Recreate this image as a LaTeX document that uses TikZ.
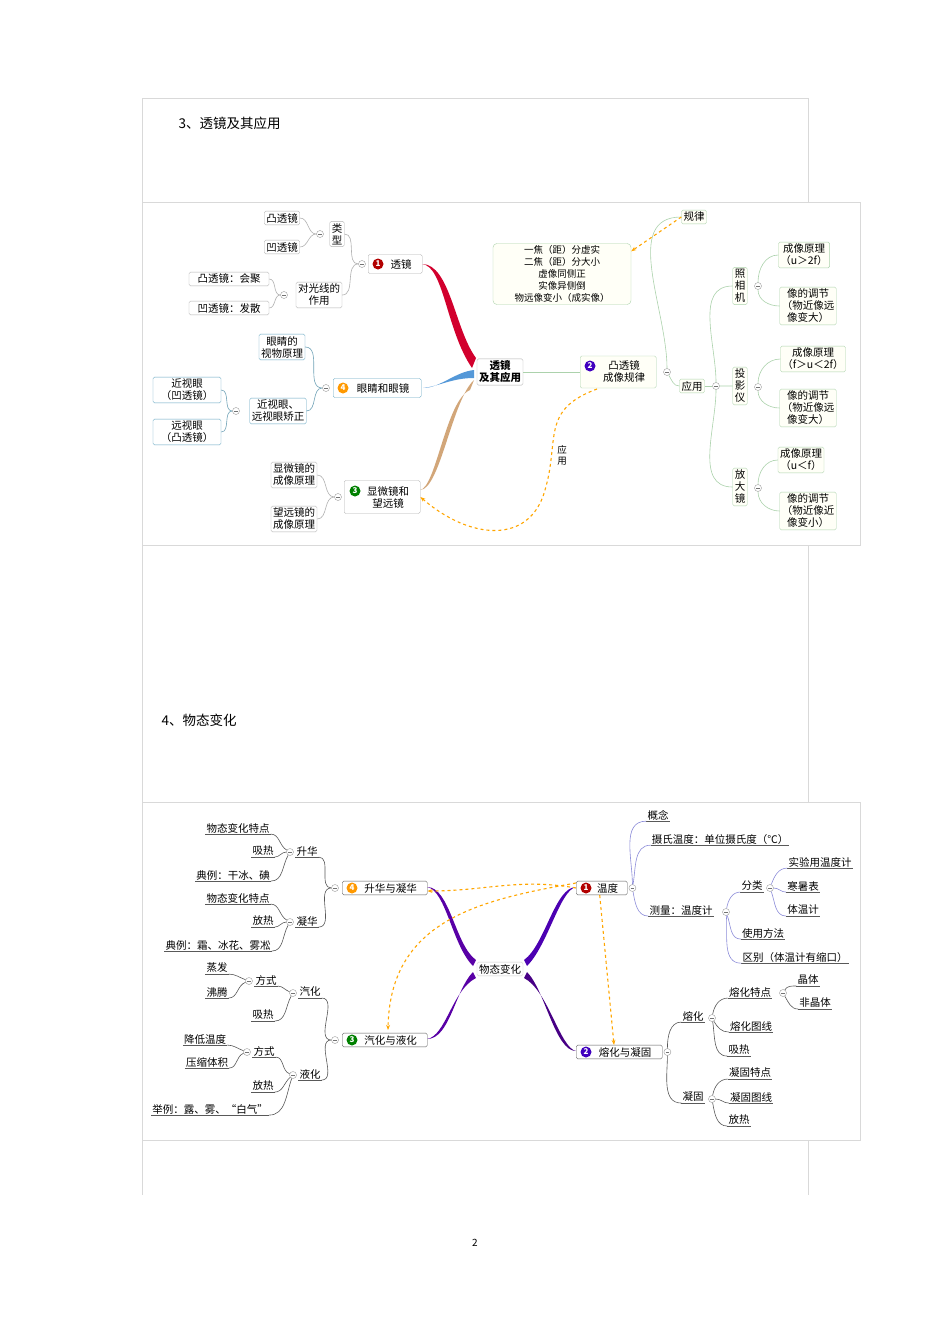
\documentclass[tikz,border=0pt]{standalone}
\usepackage{fontspec}
\setmainfont{Noto Sans CJK SC}
\usetikzlibrary{arrows.meta}
\newcommand\fs{\fontsize{10.5}{12}\selectfont}
\tikzset{
 box/.style={draw=gray!60,fill=white,rounded corners=1.5pt,align=center,font=\fs,inner sep=2pt},
 gbox/.style={box,draw=green!30!gray!50,fill=yellow!3},
 bbox/.style={box,draw=cyan!50!gray},
 mn/.style={circle,draw=gray!80,fill=white,inner sep=0pt,minimum size=7pt,
   path picture={\draw[gray!90!black] ([xshift=-1.8pt]path picture bounding box.center)--([xshift=1.8pt]path picture bounding box.center);}},
 ln/.style={draw=gray!60,line width=0.6pt},
 lnb/.style={draw=gray!50!blue!60,line width=0.6pt},
 dsh/.style={draw=orange!70!yellow,dashed,line width=1.1pt,-{Stealth[length=5pt]}},
 lab/.style={font=\fs,inner sep=1pt},
 bd/.style={circle,inner sep=0.3pt,minimum size=11pt,font=\fontsize{8}{8}\selectfont\bfseries,text=white},
 frame/.style={draw=gray!30,line width=0.5pt}
}
\newcommand\ul[3]{\node[lab] (#1) at (#2) {#3}; \draw[ln,draw=gray!70!black] (#1.south west)--(#1.south east);}
\begin{document}
\begin{tikzpicture}[x=1pt,y=-1pt]
\useasboundingbox (0,0) rectangle (950,1344);
\fill[white] (0,0) rectangle (950,1344);
% page frame
\draw[frame] (142,98)--(808,98);
\draw[frame] (142,98)--(142,1195);
\draw[frame] (808,98)--(808,202);
\draw[frame] (808,545)--(808,802);
\draw[frame] (808,1140)--(808,1195);
\draw[frame] (142,202) rectangle (860,545);
\draw[frame] (142,802) rectangle (860,1140);
\node[font=\fontsize{13.5}{15}\selectfont,anchor=west] (h1) at (175,123) {3、透镜及其应用};
\node[font=\fontsize{13.5}{15}\selectfont,anchor=west] (h2) at (158,720) {4、物态变化};
\node[font=\fontsize{10}{11}\selectfont] (pg) at (475,1243) {2};

% ===== TOP DIAGRAM =====
\node[box,font=\fs\bfseries] (c) at (500,372) {透镜\\及其应用};
\fill[purple!70!red] (476,358) .. controls (455,330) and (450,264) .. (422,264) .. controls (444,266) and (446,330) .. (472,368) -- cycle;
\fill[cyan!60!blue!70] (474,370) .. controls (455,372) and (440,388) .. (423,388) .. controls (440,386) and (452,378) .. (474,378) -- cycle;
\fill[brown!70] (474,380) .. controls (452,400) and (440,490) .. (420,490) .. controls (436,488) and (446,400) .. (470,390) -- cycle;

\node[box,minimum width=54pt,minimum height=19pt,anchor=west] (t1) at (368,264) {\hspace{12pt}透镜};
\node[bd,fill=red!70!black] (b1) at (378,264) {1};
\node[mn] (m1) at (362,264) {};
\node[box,anchor=center] (lx) at (337,234) {类\\型};
\node[mn] (m1a) at (320,234) {};
\node[box] (tu) at (282,218) {凸透镜};
\node[box] (ao) at (282,247) {凹透镜};
\node[box] (dg) at (319,295) {对光线的\\作用};
\node[mn] (m1b) at (284,295) {};
\node[box,minimum width=80pt] (hj) at (229,279) {凸透镜：会聚};
\node[box,minimum width=80pt] (fs) at (229,308) {凹透镜：发散};
\draw[ln] (m1) to[out=180,in=0] (lx.east) (m1) to[out=180,in=0] (dg.east);
\draw[ln] (m1a) to[out=180,in=0] (tu.east) (m1a) to[out=180,in=0] (ao.east);
\draw[ln] (m1b) to[out=180,in=0] (hj.east) (m1b) to[out=180,in=0] (fs.east);

\node[bbox,minimum width=88pt,minimum height=19pt,anchor=west] (t4) at (333,388) {\hspace{12pt}眼睛和眼镜};
\node[bd,fill=orange!80!yellow] (b4) at (343,388) {4};
\node[mn] (m4) at (326,388) {};
\node[bbox] (ys) at (282,347) {眼睛的\\视物原理};
\node[bbox] (jz) at (278,411) {近视眼、\\远视眼矫正};
\node[mn] (m4a) at (236,411) {};
\node[bbox,minimum width=68pt] (jsy) at (187,390) {近视眼\\（凹透镜）};
\node[bbox,minimum width=68pt] (ysy) at (187,432) {远视眼\\（凸透镜）};
\draw[ln,draw=cyan!40!gray] (m4) to[out=180,in=0] (ys.east) (m4) to[out=180,in=0] (jz.east);
\draw[ln,draw=cyan!40!gray] (m4a) to[out=180,in=0] (jsy.east) (m4a) to[out=180,in=0] (ysy.east);

\node[box,minimum width=76pt,minimum height=33pt,anchor=west] (t3) at (344,497) {\hspace{12pt}显微镜和\\\hspace{12pt}望远镜};
\node[bd,fill=green!50!black] (b3) at (355,491) {3};
\node[mn] (m3) at (338,497) {};
\node[box] (xw) at (294,475) {显微镜的\\成像原理};
\node[box] (wy) at (294,519) {望远镜的\\成像原理};
\draw[ln] (m3) to[out=180,in=0] (xw.east) (m3) to[out=180,in=0] (wy.east);

\node[gbox,minimum width=76pt,minimum height=32pt,anchor=west] (t2) at (580,372) {\hspace{12pt}凸透镜\\\hspace{12pt}成像规律};
\node[bd,fill=blue!50!violet] (b2) at (590,366) {2};
\draw[ln,draw=green!30!gray!50] (c.east)--(t2.west);
\node[mn] (m2) at (667,372) {};
\node[gbox] (gl) at (694,217) {规律};
\node[gbox,minimum width=138pt,rounded corners=4pt,font=\fontsize{9.5}{12}\selectfont] (rule) at (562,274) {一焦（距）分虚实\\二焦（距）分大小\\虚像同侧正\\实像异侧倒\\物远像变小（成实像）};
\node[gbox] (yy) at (692,386) {应用};
\node[mn] (m2a) at (716,386) {};
\draw[ln,draw=green!30!gray!50] (m2) to[out=90,in=180] (gl.west) (m2) to[out=-60,in=180] (yy.west);
\draw[ln,draw=green!30!gray!50] (yy)--(m2a);
\draw[dsh] (gl.west) -- ([yshift=-8pt]rule.north east);
\node[gbox] (zx) at (740,286) {照\\相\\机};
\node[gbox] (ty) at (740,386) {投\\影\\仪};
\node[gbox] (fd) at (740,487) {放\\大\\镜};
\draw[ln,draw=green!30!gray!50] (m2a) to[out=90,in=180] (zx.west) (m2a)--(ty.west) (m2a) to[out=-90,in=180] (fd.west);
\node[mn] (mz) at (758,286) {};
\node[mn] (mt) at (758,387) {};
\node[mn] (mf) at (758,488) {};
\node[gbox] (z1) at (804,255) {成像原理\\（u＞2f）};
\node[gbox] (z2) at (808,306) {像的调节\\（物近像远\\像变大）};
\node[gbox] (t1b) at (813,359) {成像原理\\（f＞u＜2f）};
\node[gbox] (t2b) at (808,408) {像的调节\\（物近像远\\像变大）};
\node[gbox] (f1) at (801,460) {成像原理\\（u＜f）};
\node[gbox] (f2) at (808,511) {像的调节\\（物近像近\\像变小）};
\foreach \m/\a/\b in {mz/z1/z2,mt/t1b/t2b,mf/f1/f2}{
 \draw[ln,draw=green!30!gray!50] (\m) to[out=90,in=180] (\a.west) (\m) to[out=-90,in=180] (\b.west);}
\draw[dsh] (597,389) .. controls (540,410) and (560,440) .. (545,490) .. controls (530,545) and (470,540) .. (t3.east);
\node[font=\fontsize{9.5}{11}\selectfont,align=center] (yyl) at (562,455) {应\\用};

% ===== BOTTOM DIAGRAM =====
\node[box,draw=gray!40] (c2) at (500,969) {物态变化};
\fill[violet!70!blue] (476,960) .. controls (455,945) and (450,887) .. (427,887) .. controls (446,890) and (452,945) .. (473,966) -- cycle;
\fill[violet!70!blue] (473,972) .. controls (455,990) and (450,1039) .. (427,1039) .. controls (446,1036) and (452,990) .. (476,978) -- cycle;
\fill[violet!60!blue] (524,960) .. controls (545,945) and (555,887) .. (576,887) .. controls (560,890) and (548,945) .. (527,966) -- cycle;
\fill[violet!70!blue!80!black] (527,972) .. controls (545,990) and (555,1051) .. (576,1051) .. controls (560,1048) and (548,990) .. (524,978) -- cycle;

\node[box,minimum width=51pt,anchor=west,draw=gray!70!black] (w1) at (576,888) {\hspace{12pt}温度};
\node[bd,fill=red!70!black] (wb1) at (586,888) {1};
\node[box,minimum width=86pt,anchor=west,draw=gray!70!black] (w2) at (576,1052) {\hspace{12pt}熔化与凝固};
\node[bd,fill=blue!50!violet] (wb2) at (586,1052) {2};
\node[box,minimum width=85pt,anchor=west,draw=gray!70!black] (w3) at (342,1040) {\hspace{12pt}汽化与液化};
\node[bd,fill=green!50!black] (wb3) at (352,1040) {3};
\node[box,minimum width=85pt,anchor=west,draw=gray!70!black] (w4) at (342,888) {\hspace{12pt}升华与凝华};
\node[bd,fill=orange!80!yellow] (wb4) at (352,888) {4};
\node[mn] (wm1) at (w1.east) [xshift=5pt] {};
\node[mn] (wm2) at (w2.east) [xshift=5pt] {};
\node[mn] (wm3) at (335,1040) {};
\node[mn] (wm4) at (335,888) {};

% left: 4
\ul{sh}{307,851}{升华}
\node[mn] (msh) at (290,852) {};
\ul{nh}{307,921}{凝华}
\node[mn] (mnh) at (290,922) {};
\ul{s1}{238,828}{物态变化特点}
\ul{s2}{263,851}{吸热}
\ul{s3}{233,875}{典例：干冰、碘}
\ul{n1}{238,898}{物态变化特点}
\ul{n2}{263,921}{放热}
\ul{n3}{218,945}{典例：霜、冰花、雾凇}
\draw[ln,draw=gray!70!black] (wm4) to[out=180,in=0] (sh.south east) (wm4) to[out=180,in=0] (nh.south east);
\draw[ln,draw=gray!70!black] (msh) to[out=150,in=0] (s1.south east) (msh) to[out=180,in=0] (s2.south east) (msh) to[out=-120,in=0] (s3.south east);
\draw[ln,draw=gray!70!black] (mnh) to[out=150,in=0] (n1.south east) (mnh) to[out=180,in=0] (n2.south east) (mnh) to[out=-120,in=0] (n3.south east);
% left: 3
\ul{qh}{310,992}{汽化}
\node[mn] (mqh) at (293,993) {};
\ul{yh}{310,1074}{液化}
\node[mn] (myh) at (293,1075) {};
\ul{fq}{266,980}{方式}
\node[mn] (mfq) at (249,981) {};
\ul{zf}{217,968}{蒸发}
\ul{ft}{217,992}{沸腾}
\ul{q2}{263,1015}{吸热}
\ul{fy}{264,1051}{方式}
\node[mn] (mfy) at (247,1052) {};
\ul{jd}{205,1039}{降低温度}
\ul{ys2}{207,1062}{压缩体积}
\ul{y2}{263,1086}{放热}
\ul{y3}{210,1109}{举例：露、雾、“白气”}
\draw[ln,draw=gray!70!black] (wm3) to[out=180,in=0] (qh.south east) (wm3) to[out=180,in=0] (yh.south east);
\draw[ln,draw=gray!70!black] (mqh) to[out=160,in=0] (fq.south east) (mqh) to[out=-120,in=0] (q2.south east);
\draw[ln,draw=gray!70!black] (mfq) to[out=160,in=0] (zf.south east) (mfq) to[out=-160,in=0] (ft.south east);
\draw[ln,draw=gray!70!black] (myh) to[out=160,in=0] (fy.south east) (myh) to[out=-140,in=0] (y2.south east) (myh) to[out=-110,in=0] (y3.south east);
\draw[ln,draw=gray!70!black] (mfy) to[out=160,in=0] (jd.south east) (mfy) to[out=-160,in=0] (ys2.south east);
% right: 1
\ul{gn}{658,815}{概念}
\ul{ss}{720,839}{摄氏温度：单位摄氏度（℃）}
\ul{cl}{681,910}{测量：温度计}
\node[mn] (mcl) at (726,912) {};
\ul{fl}{752,886}{分类}
\node[mn] (mfl) at (770,888) {};
\ul{sy}{820,862}{实验用温度计}
\ul{hs}{803,886}{寒暑表}
\ul{tw}{803,910}{体温计}
\ul{sf}{763,933}{使用方法}
\ul{qb}{795,957}{区别（体温计有缩口）}
\draw[lnb] (wm1) to[out=90,in=180] (gn.south west) (wm1) to[out=80,in=180] (ss.south west) (wm1) to[out=-80,in=180] (cl.south west);
\draw[lnb] (mcl) to[out=80,in=180] (fl.south west) (mcl) to[out=-70,in=180] (sf.south west) (mcl) to[out=-85,in=180] (qb.south west);
\draw[lnb] (mfl) to[out=70,in=180] (sy.south west) (mfl) to[out=0,in=180] (hs.south west) (mfl) to[out=-70,in=180] (tw.south west);
% right: 2
\ul{rh}{693,1016}{熔化}
\node[mn] (mrh) at (712,1018) {};
\ul{ng}{693,1097}{凝固}
\node[mn] (mng) at (712,1099) {};
\ul{rt}{750,992}{熔化特点}
\node[mn] (mrt) at (783,993) {};
\ul{jt}{808,980}{晶体}
\ul{fjt}{815,1003}{非晶体}
\ul{rx}{751,1026}{熔化图线}
\ul{xr}{739,1050}{吸热}
\ul{nt}{750,1073}{凝固特点}
\ul{nx}{751,1097}{凝固图线}
\ul{fr}{739,1120}{放热}
\draw[ln,draw=gray!70!black] (wm2) to[out=90,in=180] (rh.south west) (wm2) to[out=-90,in=180] (ng.south west);
\draw[ln,draw=gray!70!black] (mrh) to[out=80,in=180] (rt.south west) (mrh) to[out=-60,in=180] (rx.south west) (mrh) to[out=-80,in=180] (xr.south west);
\draw[ln,draw=gray!70!black] (mng) to[out=80,in=180] (nt.south west) (mng) to[out=0,in=180] (nx.south west) (mng) to[out=-80,in=180] (fr.south west);
\draw[ln,draw=gray!70!black] (mrt) to[out=60,in=180] (jt.south west) (mrt) to[out=-60,in=180] (fjt.south west);
% dashed
\draw[dsh] (w1.west) to[out=170,in=0] ([yshift=-3pt]w4.east);
\draw[dsh] ([yshift=5pt]w1.west) .. controls (480,900) and (390,920) .. (388,1030);
\draw[dsh] ([xshift=-2pt]w1.south) -- ([xshift=38pt]w2.north west);
\end{tikzpicture}
\end{document}
